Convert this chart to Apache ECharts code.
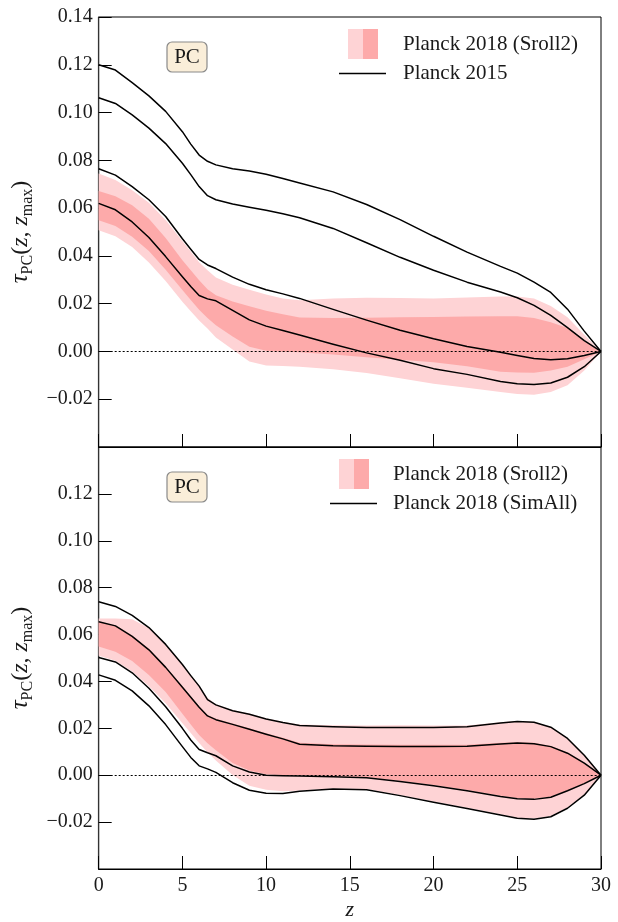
<!DOCTYPE html>
<html><head><meta charset="utf-8">
<script src="https://cdn.jsdelivr.net/npm/echarts@6/dist/echarts.min.js"></script>
<style>html,body{margin:0;padding:0;background:#fff}#c{width:618px;height:922px}</style>
</head><body><div id="c"></div>
<script>
// redshift grid
const z = [0,1,2,3,4,5,5.5,6,6.5,7,8,9,10,11,12,14,16,18,20,22,24,25,26,27,28,29,30];

// ---- top panel: Planck 2015 (black lines) ----
const p15_a = [0.1200,0.1178,0.1125,0.1070,0.1005,0.0920,0.0868,0.0822,0.0796,0.0781,0.0765,0.0755,0.0742,0.0724,0.0705,0.0668,0.0615,0.0552,0.0482,0.0416,0.0356,0.0328,0.0290,0.0247,0.0177,0.0085,0];
const p15_b = [0.1062,0.1038,0.0990,0.0935,0.0870,0.0788,0.0740,0.0690,0.0652,0.0635,0.0617,0.0604,0.0591,0.0576,0.0560,0.0515,0.0455,0.0394,0.0340,0.0290,0.0249,0.0225,0.0193,0.0151,0.0100,0.0045,0];
const p15_c = [0.0765,0.0738,0.0690,0.0635,0.0565,0.0472,0.0428,0.0385,0.0362,0.0347,0.0311,0.0281,0.0258,0.0241,0.0222,0.0176,0.0131,0.0089,0.0053,0.0021,-0.0003,-0.0017,-0.0030,-0.0035,-0.0031,-0.0017,0];
const p15_d = [0.0620,0.0593,0.0542,0.0477,0.0397,0.0313,0.0272,0.0234,0.0220,0.0212,0.0172,0.0132,0.0106,0.0088,0.0069,0.0030,-0.0006,-0.0037,-0.0072,-0.0096,-0.0126,-0.0135,-0.0138,-0.0132,-0.0108,-0.0064,0];
// ---- top panel: Planck 2018 (Sroll2) bands ----
const top95_hi = [0.0745,0.0718,0.0675,0.0622,0.0550,0.0462,0.0418,0.0373,0.0340,0.0310,0.0279,0.0258,0.0238,0.0222,0.0214,0.0222,0.0225,0.0224,0.0222,0.0226,0.0230,0.0230,0.0222,0.0190,0.0143,0.0070,0];
const top68_hi = [0.0672,0.0650,0.0612,0.0555,0.0475,0.0382,0.0340,0.0298,0.0260,0.0235,0.0209,0.0189,0.0170,0.0156,0.0142,0.0140,0.0141,0.0143,0.0144,0.0146,0.0147,0.0147,0.0140,0.0122,0.0098,0.0045,0];
const top68_lo = [0.0549,0.0525,0.0480,0.0420,0.0342,0.0257,0.0215,0.0175,0.0140,0.0110,0.0063,0.0020,0.0003,-0.0001,-0.0003,-0.0013,-0.0024,-0.0035,-0.0045,-0.0062,-0.0085,-0.0088,-0.0089,-0.0080,-0.0064,-0.0033,0];
const top95_lo = [0.0507,0.0482,0.0437,0.0372,0.0295,0.0208,0.0168,0.0130,0.0096,0.0058,0.0008,-0.0042,-0.0059,-0.0061,-0.0064,-0.0075,-0.0090,-0.0112,-0.0135,-0.0152,-0.0170,-0.0178,-0.0181,-0.0170,-0.0142,-0.0080,0];

// ---- bottom panel: Planck 2018 (SimAll) (black lines) ----
const sim_a = [0.0740,0.0720,0.0682,0.0630,0.0558,0.0472,0.0425,0.0380,0.0322,0.0300,0.0275,0.0260,0.0240,0.0225,0.0212,0.0207,0.0204,0.0204,0.0204,0.0207,0.0223,0.0229,0.0226,0.0205,0.0157,0.0085,0];
const sim_b = [0.0655,0.0637,0.0592,0.0535,0.0460,0.0375,0.0333,0.0290,0.0253,0.0237,0.0217,0.0196,0.0175,0.0155,0.0132,0.0126,0.0124,0.0123,0.0123,0.0124,0.0133,0.0137,0.0134,0.0122,0.0094,0.0052,0];
const sim_c = [0.0502,0.0483,0.0437,0.0371,0.0292,0.0200,0.0150,0.0110,0.0096,0.0083,0.0040,0.0014,0.0000,-0.0002,-0.0003,-0.0007,-0.0011,-0.0027,-0.0045,-0.0066,-0.0091,-0.0100,-0.0103,-0.0094,-0.0066,-0.0036,0];
const sim_d = [0.0428,0.0405,0.0360,0.0296,0.0216,0.0122,0.0076,0.0040,0.0027,0.0012,-0.0032,-0.0064,-0.0077,-0.0078,-0.0068,-0.0059,-0.0062,-0.0087,-0.0115,-0.0142,-0.0170,-0.0184,-0.0188,-0.0177,-0.0141,-0.0085,0];
// ---- bottom panel: Planck 2018 (Sroll2) bands ----
const bot95_hi = [0.0668,0.0668,0.0665,0.0628,0.0560,0.0474,0.0428,0.0383,0.0330,0.0303,0.0278,0.0263,0.0243,0.0228,0.0216,0.0213,0.0212,0.0213,0.0212,0.0212,0.0226,0.0231,0.0228,0.0207,0.0159,0.0087,0];
const bot68_hi = [0.0655,0.0640,0.0596,0.0539,0.0464,0.0379,0.0337,0.0294,0.0257,0.0241,0.0221,0.0200,0.0179,0.0160,0.0138,0.0132,0.0131,0.0130,0.0130,0.0130,0.0138,0.0141,0.0138,0.0125,0.0097,0.0054,0];
const bot68_lo = [0.0549,0.0527,0.0487,0.0428,0.0355,0.0262,0.0216,0.0172,0.0136,0.0106,0.0052,0.0020,0.0004,0.0001,0.0000,-0.0004,-0.0008,-0.0024,-0.0042,-0.0063,-0.0088,-0.0097,-0.0100,-0.0091,-0.0064,-0.0034,0];
const bot95_lo = [0.0510,0.0488,0.0442,0.0380,0.0307,0.0222,0.0180,0.0137,0.0098,0.0063,0.0001,-0.0045,-0.0062,-0.0068,-0.0065,-0.0057,-0.0059,-0.0084,-0.0112,-0.0139,-0.0167,-0.0181,-0.0185,-0.0174,-0.0138,-0.0082,0];

// axis ticks / texts
const xTicks = [0,5,10,15,20,25,30];
const yMin = -0.04, yMax = 0.14, yStep = 0.02;
const legendTop = ['Planck 2018 (Sroll2)', 'Planck 2015'];
const legendBot = ['Planck 2018 (Sroll2)', 'Planck 2018 (SimAll)'];
const panelTag = 'PC';

const FONT = 'Liberation Serif';
const TXT = '#1a1a1a';
const LIGHT = '#fed3d5', DARK = '#fdaaaa';

function pts(ys){ return z.map((x,i)=>[x, ys[i]]); }

function band(lo, hi, color, gi){
  return {type:'custom', xAxisIndex:gi, yAxisIndex:gi, silent:true, z:1,
    data:[[z[0], lo[0]]],
    renderItem:function(params, api){
      const p = [];
      for (let i=0;i<z.length;i++) p.push(api.coord([z[i], hi[i]]));
      for (let i=z.length-1;i>=0;i--) p.push(api.coord([z[i], lo[i]]));
      return {type:'polygon', shape:{points:p}, style:{fill:color, stroke:null}};
    }};
}
function line(arr, gi, extra){
  const s = {type:'line', xAxisIndex:gi, yAxisIndex:gi, data:pts(arr), smooth:false, symbol:'none',
    lineStyle:{color:'#000', width:1.5, join:'round'}, z:5, silent:true};
  if (extra) Object.assign(s, extra);
  return s;
}
const zeroMark = {markLine:{silent:true, symbol:'none', label:{show:false},
  lineStyle:{color:'#000', type:[2,2], width:1.1}, data:[{yAxis:0}]}};

function xAx(gi, showLabel){
  const ax = {type:'value', gridIndex:gi, min:xTicks[0], max:xTicks[xTicks.length-1], interval:xTicks[1]-xTicks[0],
    axisLine:{show:true, onZero:false, lineStyle:{color:'#000', width:1}},
    axisTick:{show:true, inside:true, length:13, lineStyle:{color:'#000', width:1}},
    axisLabel:{show:showLabel, fontFamily:FONT, fontSize:20, color:TXT, margin:7},
    splitLine:{show:false}};
  if (showLabel){
    ax.name = 'z'; ax.nameLocation = 'middle'; ax.nameGap = 30;
    ax.nameTextStyle = {fontFamily:FONT, fontStyle:'italic', fontSize:22, color:TXT};
  }
  return ax;
}
function yAx(gi, hideTop){
  return {type:'value', gridIndex:gi, min:yMin, max:yMax, interval:yStep,
    axisLine:{show:true, lineStyle:{color:'#333', width:1.2}},
    axisTick:{show:true, inside:true, length:13, lineStyle:{color:'#000', width:1}},
    axisLabel:{fontFamily:FONT, fontSize:20, color:TXT, margin:6,
      formatter:function(v){
        if (Math.abs(v - yMin) < 1e-9) return '';
        if (hideTop && Math.abs(v - yMax) < 1e-9) return '';
        const s = Math.abs(v).toFixed(2);
        return (v < -1e-9 ? '\u2212' : '') + s;
      }},
    splitLine:{show:false},
    name:'{t|τ}{s|PC}{n|(}{i|z}{n|, }{i|z}{s|max}{n|)}',
    nameLocation:'middle', nameGap:48, nameRotate:90,
    nameTextStyle:{rich:{
      t:{fontFamily:FONT, fontStyle:'italic', fontSize:25, color:TXT, lineHeight:30},
      i:{fontFamily:FONT, fontStyle:'italic', fontSize:24, color:TXT, lineHeight:30},
      n:{fontFamily:FONT, fontSize:24, color:TXT, lineHeight:30},
      s:{fontFamily:FONT, fontSize:16, color:TXT, lineHeight:16, verticalAlign:'bottom'}
    }}
  };
}

function legendGraphics(y0, swX, lineX, txtX, labels){
  return [
    {type:'rect', shape:{x:swX, y:y0, width:15, height:30}, style:{fill:LIGHT}},
    {type:'rect', shape:{x:swX+15, y:y0, width:15, height:30}, style:{fill:DARK}},
    {type:'text', x:txtX, y:y0+15, style:{text:labels[0], fontFamily:FONT, fontSize:21, fill:TXT, verticalAlign:'middle'}},
    {type:'line', shape:{x1:lineX, y1:y0+44.5, x2:lineX+47, y2:y0+44.5}, style:{stroke:'#000', lineWidth:1.5}},
    {type:'text', x:txtX, y:y0+44, style:{text:labels[1], fontFamily:FONT, fontSize:21, fill:TXT, verticalAlign:'middle'}}
  ];
}
function tagGraphics(y0){
  return [
    {type:'rect', shape:{x:167, y:y0, width:40, height:30, r:5}, style:{fill:'#faeed9', stroke:'#8a8a8a', lineWidth:1.2}},
    {type:'text', x:187, y:y0+15.5, style:{text:panelTag, fontFamily:FONT, fontSize:21, fill:TXT, align:'center', verticalAlign:'middle'}}
  ];
}

const series = [
  band(top95_lo, top95_hi, LIGHT, 0),
  band(top68_lo, top68_hi, DARK, 0),
  line(p15_a,0,zeroMark), line(p15_b,0), line(p15_c,0), line(p15_d,0),
  band(bot95_lo, bot95_hi, LIGHT, 1),
  band(bot68_lo, bot68_hi, DARK, 1),
  line(sim_a,1,zeroMark), line(sim_b,1), line(sim_c,1), line(sim_d,1)
];

const option = {
  animation:false,
  backgroundColor:'#fff',
  grid:[
    {left:97, top:17, width:504, height:430, show:true, borderColor:'#000', borderWidth:1, backgroundColor:'transparent'},
    {left:97, top:447, width:504, height:430, show:true, borderColor:'#000', borderWidth:1, backgroundColor:'transparent'}
  ],
  xAxis:[xAx(0,false), xAx(1,true)],
  yAxis:[yAx(0,false), yAx(1,true)],
  series:series,
  graphic:[].concat(
    legendGraphics(29, 348, 339, 403, legendTop),
    tagGraphics(42),
    legendGraphics(459, 339, 330, 393, legendBot),
    tagGraphics(472)
  )
};
const chart = echarts.init(document.getElementById('c'), null, {renderer:'canvas'});
chart.setOption(option);
</script></body></html>
